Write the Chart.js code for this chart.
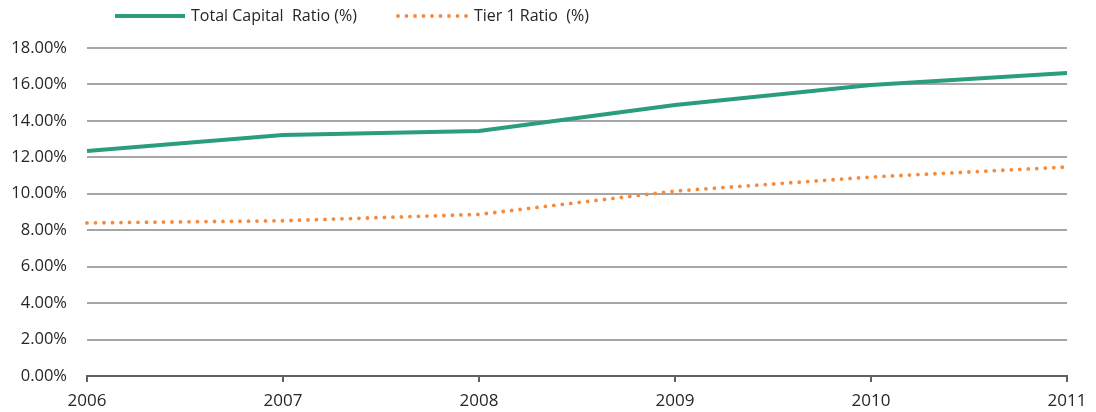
<!DOCTYPE html>
<html>
<head>
<meta charset="utf-8">
<script src="https://cdn.jsdelivr.net/npm/chart.js@4"></script>
<style>
html,body{margin:0;padding:0;background:#fff;}
#wrap{width:1096px;height:412px;position:relative;}
</style>
</head>
<body>
<div id="wrap"><canvas id="c" width="1096" height="412"></canvas></div>
<script>
const categories = ['2006','2007','2008','2009','2010','2011'];
const totalCapitalRatio = [12.35, 13.22, 13.45, 14.87, 15.97, 16.63];
const tier1Ratio = [8.40, 8.52, 8.87, 10.15, 10.92, 11.47];
const seriesLabels = ['Total Capital  Ratio (%)', 'Tier 1 Ratio  (%)'];
const yTicks = [0, 2, 4, 6, 8, 10, 12, 14, 16, 18];

const FONT = '"Open Sans", "Noto Sans", sans-serif';
const TEXT = '#262626';

const legendPlugin = {
  id: 'customLegend',
  afterDraw(chart) {
    const ctx = chart.ctx;
    const y = 16;
    const starts = [115, 398];
    ctx.save();
    ctx.font = '16px ' + FONT;
    ctx.textBaseline = 'middle';
    chart.data.datasets.forEach((ds, i) => {
      const x = starts[i];
      ctx.beginPath();
      ctx.strokeStyle = ds.borderColor;
      ctx.lineWidth = ds.borderWidth;
      ctx.lineCap = ds.borderCapStyle || 'butt';
      ctx.setLineDash(ds.borderDash || []);
      ctx.moveTo(x, y);
      ctx.lineTo(x + 70, y);
      ctx.stroke();
      ctx.setLineDash([]);
      ctx.fillStyle = TEXT;
      ctx.fillText(ds.label, x + 76, y);
    });
    ctx.restore();
  }
};

new Chart(document.getElementById('c'), {
  type: 'line',
  data: {
    labels: categories,
    datasets: [
      {
        label: seriesLabels[0],
        data: totalCapitalRatio,
        borderColor: '#2a9d7f',
        borderWidth: 4,
        pointRadius: 0,
        tension: 0,
        fill: false
      },
      {
        label: seriesLabels[1],
        data: tier1Ratio,
        borderColor: '#f58a3c',
        borderWidth: 3.8,
        borderDash: [0, 8.5],
        borderCapStyle: 'round',
        pointRadius: 0,
        tension: 0,
        fill: false
      }
    ]
  },
  options: {
    responsive: false,
    animation: false,
    layout: { padding: { top: 48, right: 29, left: 0, bottom: 0 } },
    plugins: { legend: { display: false }, tooltip: { enabled: false } },
    scales: {
      x: {
        offset: false,
        grid: { display: true, drawOnChartArea: false, drawTicks: true, tickLength: 6, color: '#606060', lineWidth: 2 },
        border: { display: true, color: '#606060', width: 2 },
        ticks: { color: TEXT, font: { family: FONT, size: 17 }, padding: 9, maxRotation: 0, autoSkip: false },
        afterFit(scale) { scale.height = 36; }
      },
      y: {
        min: 0, max: 18,
        afterBuildTicks(scale) { scale.ticks = yTicks.map(v => ({ value: v })); },
        grid: { color: '#a6a6a6', lineWidth: 2, drawTicks: false },
        border: { display: false },
        ticks: { color: TEXT, font: { family: FONT, size: 16.5 }, padding: 20, callback: v => v.toFixed(2) + '%' },
        afterFit(scale) { scale.width = 87; }
      }
    }
  },
  plugins: [legendPlugin]
});
</script>
</body>
</html>
